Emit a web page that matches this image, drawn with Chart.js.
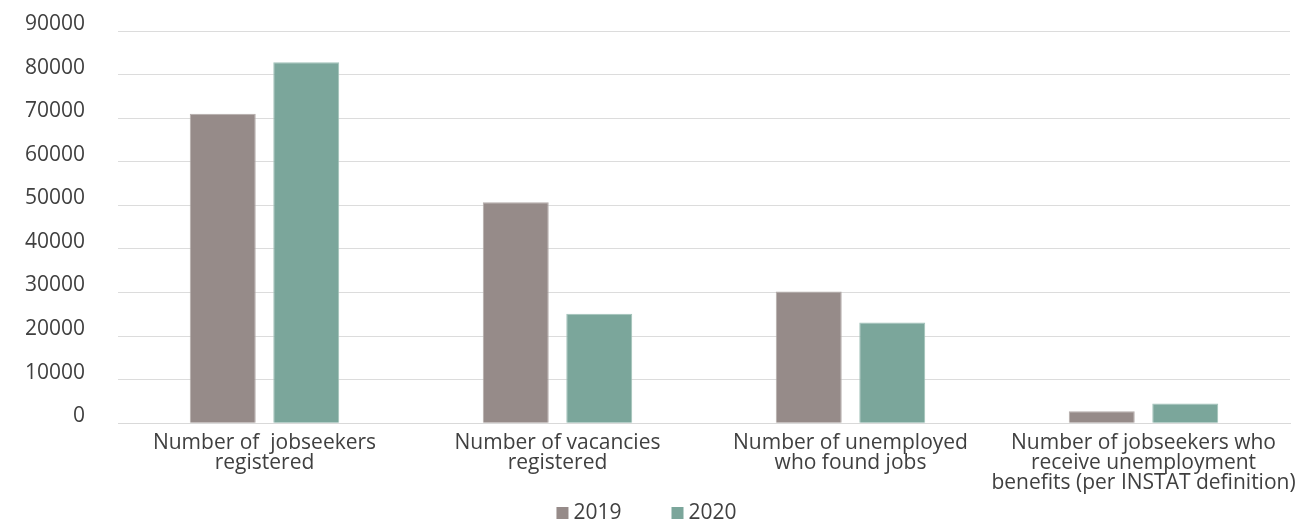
<!DOCTYPE html>
<html>
<head>
<meta charset="utf-8">
<script src="https://cdn.jsdelivr.net/npm/chart.js@4/dist/chart.umd.min.js"></script>
<style>
  html, body { margin: 0; padding: 0; background: #fff; overflow: hidden; }
  .chart-box { position: relative; width: 1299px; height: 520px; }
</style>
</head>
<body>
<div class="chart-box"><canvas id="jobsChart"></canvas></div>
<script>
// Chart data
const categories = [
    ['Number of  jobseekers', 'registered'],
    ['Number of vacancies', 'registered'],
    ['Number of unemployed', 'who found jobs'],
    ['Number of jobseekers who', 'receive unemployment', 'benefits (per INSTAT definition)']
];
const values2019 = [71000, 50700, 30200, 2750];
const values2020 = [82800, 25100, 23100, 4500];
const seriesLabels = ['2019', '2020'];
const seriesColors = ['#968b89', '#7ba69b'];

document.addEventListener('DOMContentLoaded', () => {
    const ctx = document.getElementById('jobsChart').getContext('2d');
    const textColor = '#404040';
    const family = 'Open Sans';

    // Legend drawn by hand: the built-in one can't space items apart
    // without also pushing them down.
    const bottomLegend = {
        id: 'bottomLegend',
        afterDraw(chart) {
            const c = chart.ctx;
            const box = 12, textGap = 5, itemGap = 50;
            c.save();
            c.font = `21px "${family}"`;
            c.textBaseline = 'middle';
            const widths = chart.data.datasets.map(ds => box + textGap + c.measureText(ds.label).width);
            const total = widths.reduce((a, b) => a + b, 0) + itemGap * (widths.length - 1);
            let x = chart.width / 2 - total / 2 - 3;
            const y = chart.height - 7;
            chart.data.datasets.forEach((ds, i) => {
                c.fillStyle = ds.backgroundColor;
                c.fillRect(x, y - box / 2, box, box);
                c.fillStyle = textColor;
                c.fillText(ds.label, x + box + textGap, y);
                x += widths[i] + itemGap;
            });
            c.restore();
        }
    };

    new Chart(ctx, {
        type: 'bar',
        data: {
            labels: categories,
            datasets: seriesLabels.map((label, i) => ({
                label: label,
                data: i === 0 ? values2019 : values2020,
                backgroundColor: seriesColors[i],
                borderColor: i === 0 ? '#b3aba9' : '#a0c2b9',
                borderWidth: 1,
                barPercentage: 0.79,
                categoryPercentage: 0.57
            }))
        },
        options: {
            responsive: true,
            maintainAspectRatio: false,
            animation: false,
            layout: { padding: { left: 13, right: 9, top: 31, bottom: 25 } },
            plugins: {
                legend: { display: false },
                tooltip: { enabled: false }
            },
            scales: {
                x: {
                    grid: { display: false },
                    border: { color: '#d9d9d9' },
                    ticks: {
                        color: textColor,
                        font: { family: family, size: 21, lineHeight: 0.95 },
                        maxRotation: 0,
                        autoSkip: false,
                        padding: 2
                    }
                },
                y: {
                    min: 0,
                    max: 90000,
                    // fixed width, and drop the extra top/bottom room the big tick padding adds
                    afterFit: (scale) => {
                        scale.width = 105;
                        scale.paddingTop = 0;
                        scale.paddingBottom = 0;
                    },
                    grid: { color: '#dcdcdc', drawTicks: false },
                    border: { display: false },
                    ticks: {
                        stepSize: 10000,
                        color: textColor,
                        font: { family: family, size: 21 },
                        padding: 33,
                        labelOffset: -7,
                        callback: (value) => String(value)
                    }
                }
            }
        },
        plugins: [bottomLegend]
    });
});
</script>
</body>
</html>
